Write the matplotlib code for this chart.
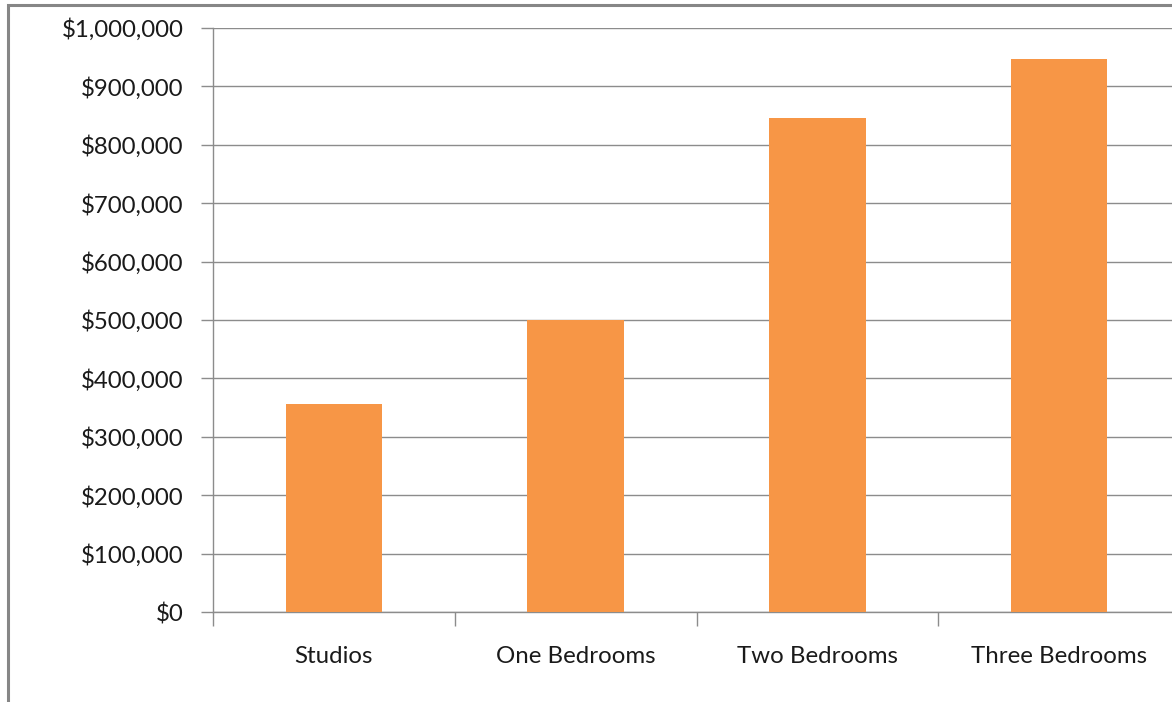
import matplotlib.pyplot as plt
from matplotlib.ticker import FuncFormatter, FixedLocator
from matplotlib.patches import Rectangle

categories = ["Studios", "One Bedrooms", "Two Bedrooms", "Three Bedrooms"]
prices = [356000, 500000, 846000, 947000]
y_ticks = [0, 100000, 200000, 300000, 400000, 500000, 600000, 700000, 800000, 900000, 1000000]

plt.rcParams['font.family'] = ['Lato', 'DejaVu Sans']

fig = plt.figure(figsize=(11.72, 7.02), dpi=100)
ax = fig.add_axes([213 / 1172, 90 / 702, 967 / 1172, 584 / 702])

x = list(range(len(categories)))
ax.bar(x, prices, width=0.4, color='#F79646', zorder=3)

ax.set_xlim(-0.5, len(categories) - 0.5)
ax.set_ylim(0, 1000000)
ax.set_yticks(y_ticks)
ax.yaxis.set_major_formatter(FuncFormatter(lambda v, p: '${:,.0f}'.format(v)))
ax.grid(axis='y', color='#8c8c8c', linewidth=1.0, zorder=0)

ax.set_xticks(x)
ax.set_xticklabels(categories)
ax.xaxis.set_minor_locator(FixedLocator([i - 0.5 for i in range(len(categories) + 1)]))
ax.tick_params(axis='x', which='major', length=0, pad=24.5, labelsize=17.3, labelcolor='#1a1a1a')
ax.tick_params(axis='x', which='minor', length=10, width=1, color='#8c8c8c')
ax.tick_params(axis='y', length=9, width=1, color='#8c8c8c', pad=12, labelsize=17.3, labelcolor='#1a1a1a')

for side in ['top', 'right']:
    ax.spines[side].set_visible(False)
for side in ['left', 'bottom']:
    ax.spines[side].set_color('#8c8c8c')
    ax.spines[side].set_linewidth(1.0)

# outer chart border (only left and top edges visible in crop)
fig.patches.append(Rectangle((7.5 / 1172, -0.1), 1.2, 1.1 - 5.5 / 702,
                             transform=fig.transFigure, fill=False,
                             edgecolor='#868686', linewidth=2.2))

fig.savefig('out.png', dpi=100)
